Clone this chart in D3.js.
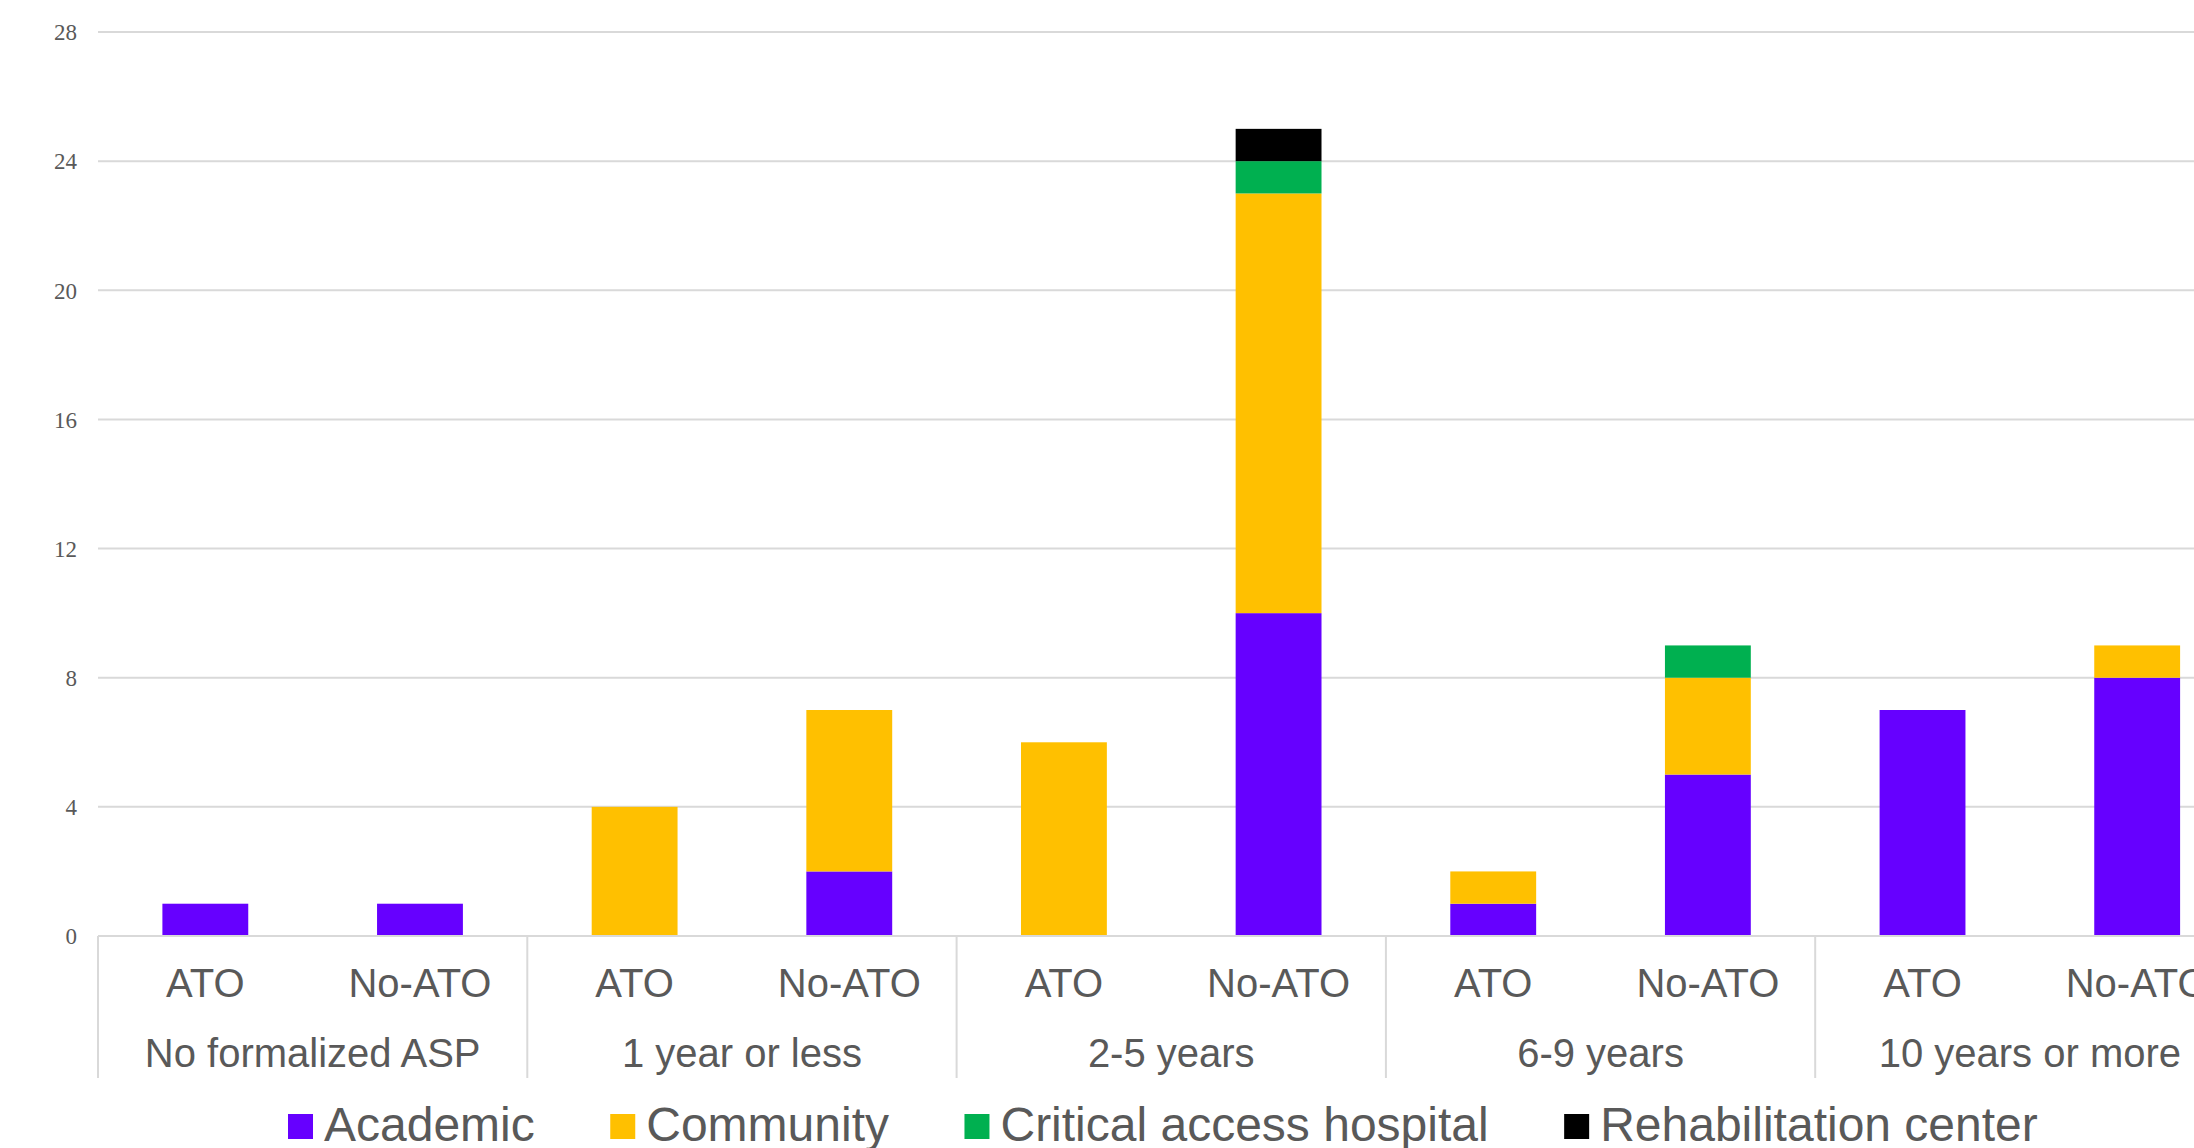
<!DOCTYPE html>
<html>
<head>
<meta charset="utf-8">
<script src="https://cdn.jsdelivr.net/npm/d3@7"></script>
<style>
  body { margin: 0; background: #fff; overflow: hidden; }
  svg { display: block; }
</style>
</head>
<body>
<script>
// Chart data
const groups = ["No formalized ASP", "1 year or less", "2-5 years", "6-9 years", "10 years or more"];
const subgroups = ["ATO", "No-ATO"];
const seriesNames = ["Academic", "Community", "Critical access hospital", "Rehabilitation center"];
const seriesColors = ["#6600FF", "#FFC000", "#00B050", "#000000"];

// values in order: group1 ATO, group1 No-ATO, group2 ATO, ...
const academic  = [1, 1, 0, 2, 0, 10, 1, 5, 7, 8];
const community = [0, 0, 4, 5, 6, 13, 1, 3, 0, 1];
const critical  = [0, 0, 0, 0, 0, 1, 0, 1, 0, 0];
const rehab     = [0, 0, 0, 0, 0, 1, 0, 0, 0, 0];

const yTicks = [0, 4, 8, 12, 16, 20, 24, 28];

const width = 2194;
const height = 1148;
const left = 98;
const groupWidth = 429.3;

const svg = d3.select("body").append("svg")
    .attr("width", width)
    .attr("height", height);

// build rows for stacking
const rows = [];
groups.forEach((g, gi) => {
  subgroups.forEach((s, si) => {
    const i = gi * 2 + si;
    rows.push({
      group: g, sub: s,
      "Academic": academic[i],
      "Community": community[i],
      "Critical access hospital": critical[i],
      "Rehabilitation center": rehab[i]
    });
  });
});

// scales
const x0 = d3.scaleBand()
    .domain(groups)
    .range([left, left + groupWidth * groups.length])
    .padding(0);

const x1 = d3.scaleBand()
    .domain(subgroups)
    .range([0, x0.bandwidth()])
    .paddingInner(0.6)
    .paddingOuter(0.3);

const y = d3.scaleLinear()
    .domain([0, 28])
    .range([936, 32]);

const color = d3.scaleOrdinal().domain(seriesNames).range(seriesColors);

// gridlines
svg.append("g")
  .selectAll("line")
  .data(yTicks.filter(d => d > 0))
  .join("line")
    .attr("x1", left)
    .attr("x2", width)
    .attr("y1", d => y(d))
    .attr("y2", d => y(d))
    .attr("stroke", "#d9d9d9")
    .attr("stroke-width", 2);

// y tick labels
svg.append("g")
  .selectAll("text")
  .data(yTicks)
  .join("text")
    .attr("x", 77)
    .attr("y", d => y(d))
    .attr("dy", "0.36em")
    .attr("text-anchor", "end")
    .attr("font-family", "'Liberation Serif', 'Times New Roman', serif")
    .attr("font-size", 23)
    .attr("fill", "#595959")
    .text(d => d);

// stacked bars
const stack = d3.stack().keys(seriesNames);
const stacked = stack(rows);

svg.append("g")
  .selectAll("g")
  .data(stacked)
  .join("g")
    .attr("fill", d => color(d.key))
  .selectAll("rect")
  .data(d => d.filter(p => p[1] - p[0] > 0))
  .join("rect")
    .attr("x", d => x0(d.data.group) + x1(d.data.sub))
    .attr("width", x1.bandwidth())
    .attr("y", d => y(d[1]))
    .attr("height", d => y(d[0]) - y(d[1]));

// x axis baseline
svg.append("line")
    .attr("x1", left)
    .attr("x2", width)
    .attr("y1", y(0))
    .attr("y2", y(0))
    .attr("stroke", "#d9d9d9")
    .attr("stroke-width", 2);

// group separators
const seps = groups.map(g => x0(g));
svg.append("g")
  .selectAll("line")
  .data(seps)
  .join("line")
    .attr("x1", d => d)
    .attr("x2", d => d)
    .attr("y1", y(0))
    .attr("y2", 1078)
    .attr("stroke", "#d9d9d9")
    .attr("stroke-width", 2);

// inner labels (ATO / No-ATO)
svg.append("g")
  .selectAll("text")
  .data(rows)
  .join("text")
    .attr("x", d => x0(d.group) + x1(d.sub) + x1.bandwidth() / 2)
    .attr("y", 997)
    .attr("text-anchor", "middle")
    .attr("font-family", "'Liberation Sans', Arial, sans-serif")
    .attr("font-size", 40)
    .attr("fill", "#595959")
    .text(d => d.sub);

// group labels
svg.append("g")
  .selectAll("text")
  .data(groups)
  .join("text")
    .attr("x", d => x0(d) + x0.bandwidth() / 2)
    .attr("y", 1067)
    .attr("text-anchor", "middle")
    .attr("font-family", "'Liberation Sans', Arial, sans-serif")
    .attr("font-size", 40)
    .attr("fill", "#595959")
    .text(d => d);

// legend
const legend = svg.append("g");
let lx = 288;
seriesNames.forEach((name, i) => {
  legend.append("rect")
      .attr("x", lx)
      .attr("y", 1114)
      .attr("width", 25)
      .attr("height", 25)
      .attr("fill", seriesColors[i]);
  const t = legend.append("text")
      .attr("x", lx + 36)
      .attr("y", 1141)
      .attr("font-family", "'Liberation Sans', Arial, sans-serif")
      .attr("font-size", 48)
      .attr("fill", "#595959")
      .text(name);
  lx += 36 + t.node().getComputedTextLength() + 75.5;
});
</script>
</body>
</html>
